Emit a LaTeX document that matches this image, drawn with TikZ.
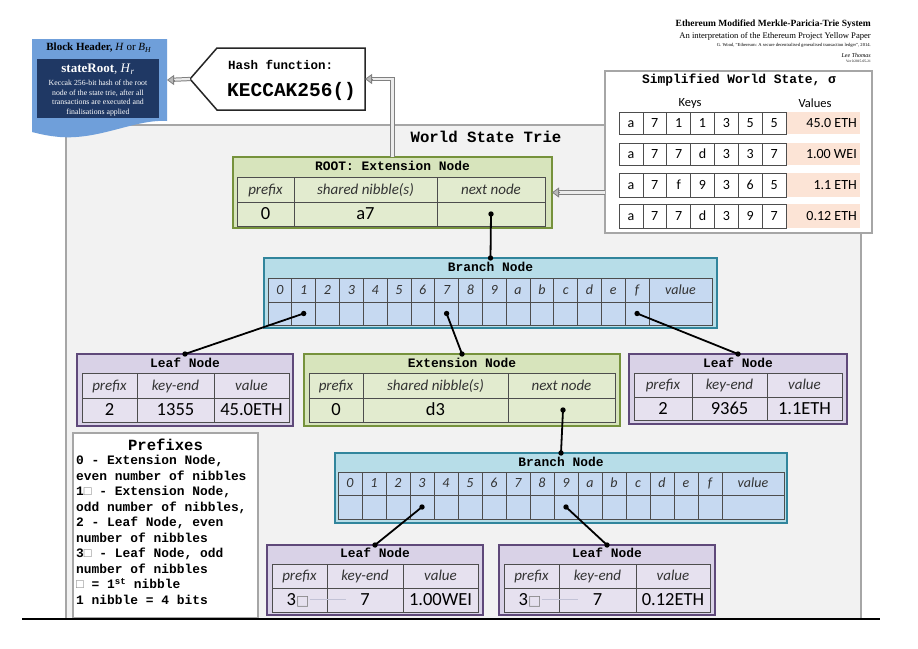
\documentclass[tikz,border=0pt]{standalone}
\usepackage{fontspec}
\setmainfont{Liberation Serif}
\newfontfamily\calf{Carlito}
\newfontfamily\mono{Liberation Mono}
\newfontfamily\djv{DejaVu Sans}
\usetikzlibrary{arrows.meta}

\definecolor{grnfill}{HTML}{D7E4BC}
\definecolor{grncell}{HTML}{E2EBCF}
\definecolor{grnline}{HTML}{76923C}
\definecolor{bluefill}{HTML}{B7DDE8}
\definecolor{bluecell}{HTML}{C6D9F1}
\definecolor{blueline}{HTML}{31859C}
\definecolor{purfill}{HTML}{D9D2E7}
\definecolor{purcell}{HTML}{E6E1EF}
\definecolor{purline}{HTML}{5F497A}
\definecolor{wsfill}{HTML}{F2F2F2}
\definecolor{wsline}{HTML}{A6A6A6}
\definecolor{peach}{HTML}{FCE4D6}
\definecolor{hdrblue}{HTML}{6F9FDA}
\definecolor{navy}{HTML}{1F3864}
\definecolor{cellline}{HTML}{4D4D4D}

\newcommand{\nibsq}{\textcolor{gray}{□}}
\newcommand{\bigsq}{\raisebox{0.5pt}{\djv\fontsize{14}{14}\selectfont\textcolor{gray}{□}}}
\newcommand{\tgrid}[8]{%
  \filldraw[cell, fill=#1] (#2,#6) rectangle (#5,#8);
  \draw[cell] (#2,#7) -- (#5,#7) (#3,#6) -- (#3,#8) (#4,#6) -- (#4,#8);}
\newcommand{\tlink}[2]{%
  \draw[conn] (#1) -- (#2);
  \fill (#1) circle[radius=2.7pt];
  \fill (#2) circle[radius=2.7pt];}

\tikzset{
  boxnode/.style={anchor=north west, inner sep=0pt, outer sep=0pt, line width=2.2pt},
  extbox/.style={boxnode, draw=grnline, fill=grnfill},
  brbox/.style={boxnode, draw=blueline, fill=bluefill},
  leafbox/.style={boxnode, draw=purline, fill=purfill},
  plainbox/.style={boxnode, draw=wsline, fill=white, line width=1.5pt},
  cell/.style={draw=cellline, line width=0.7pt},
  ttl/.style={font=\mono\bfseries\fontsize{12.9}{14}\selectfont, inner sep=0pt, text height=7.4pt, text depth=0pt},
  hd/.style={font=\calf\itshape\fontsize{15}{17}\selectfont, text height=9.5pt, text depth=0pt, inner sep=0pt, text=black!80},
  val/.style={font=\calf\fontsize{18.5}{20}\selectfont, text height=11.7pt, text depth=0pt, inner sep=0pt},
  bl/.style={font=\calf\itshape\fontsize{14}{16}\selectfont, text height=8.8pt, text depth=0pt, inner sep=0pt, text=black!80},
  ks/.style={font=\calf\fontsize{14}{16}\selectfont, text height=8.8pt, text depth=0pt, inner sep=0pt},
  conn/.style={line width=1.8pt},
  dblline/.style={draw=gray, line width=1pt, double=gray!15, double distance=2.2pt, shorten >=5pt},
  tiphead/.style={draw=gray, line width=0.8pt, -{Triangle[length=7pt, width=10pt, fill=gray!55]}}
}

\begin{document}
\begin{tikzpicture}[x=1pt,y=-1pt]
\fill[white] (0,0) rectangle (918,648);
\useasboundingbox (0,0) rectangle (918,648);

% ---- titles top right
\node[anchor=east, inner sep=0pt, font=\bfseries\fontsize{9.5}{11}\selectfont] (t1) at (871,24) {Ethereum Modified Merkle-Paricia-Trie System};
\node[anchor=east, inner sep=0pt, font=\fontsize{8.6}{10}\selectfont] (t2) at (871,36) {An interpretation of the Ethereum Project Yellow Paper};
\node[anchor=east, inner sep=0pt, font=\fontsize{4.6}{5}\selectfont] (t3) at (871,45) {G. Wood, “Ethereum: A secure decentralised generalised transaction ledger”, 2014.};
\node[anchor=east, inner sep=0pt, font=\itshape\fontsize{6}{7}\selectfont] (t4) at (871,55) {Lee Thomas};
\node[anchor=east, inner sep=0pt, font=\fontsize{3.5}{4}\selectfont] (t5) at (871,61) {Ver 0.2015-05-21};

% ---- world state trie
\node[boxnode, draw=wsline, fill=wsfill, line width=1.5pt, minimum width=795pt, minimum height=494pt] (wst) at (66,125) {};
\node[font=\mono\bfseries\fontsize{15.7}{18}\selectfont, inner sep=0pt] (wstt) at (486,137) {World State Trie};

% ---- block header
\node[boxnode, minimum width=135pt, minimum height=82pt] (bh) at (32,39) {};
\fill[hdrblue] (32,39) -- (167,39) -- (167,121) .. controls (135,119) and (100,140) .. (60,137) .. controls (48,136) and (40,134) .. (32,132) -- cycle;
\fill[navy] (37,59) rectangle (159,118);
\node[inner sep=0pt, font=\fontsize{11}{13}\selectfont] (bht) at (99,48) {\textbf{Block Header,} \textit{H} or \textit{B}\textsubscript{\textit{H}}};
\node[inner sep=0pt, text=white, font=\fontsize{13}{15}\selectfont] (sr) at (98,69) {\textbf{stateRoot}, \textit{H}\textsubscript{\textit{r}}};
\node[inner sep=0pt, text=white, align=center, font=\fontsize{7.8}{9.6}\selectfont] (srd) at (98,98) {Keccak 256-bit hash of the root\\node of the state trie, after all\\transactions are executed and\\finalisations applied};

% ---- hash function
\node[boxnode, minimum width=175pt, minimum height=62pt] (hash) at (190,48) {};
\filldraw[fill=white, draw=black!85, line width=1.5pt] (217,48) -- (365,48) -- (365,110) -- (217,110) -- (190,79) -- cycle;
\node[anchor=west, inner sep=0pt, font=\mono\bfseries\fontsize{12.5}{14}\selectfont] (hasht) at (228,65) {Hash function:};
\node[anchor=west, inner sep=0pt, font=\mono\bfseries\fontsize{19.5}{22}\selectfont] (hashk) at (227,91) {KECCAK256()};

% ---- simplified world state
\node[plainbox, minimum width=267pt, minimum height=162pt] (sws) at (605,71) {};
\node[font=\mono\bfseries\fontsize{12.9}{14}\selectfont, inner sep=0pt] (swst) at (739,80) {Simplified World State, σ};
\node[inner sep=0pt, font=\calf\fontsize{12.5}{14}\selectfont] (keys) at (690,103) {Keys};
\node[inner sep=0pt, font=\calf\fontsize{12.5}{14}\selectfont] (vals) at (815,103) {Values};
\foreach \yt/\yb/\keys/\val [count=\r] in {112/134/{a,7,1,1,3,5,5}/{45.0 ETH}, 143/165/{a,7,7,d,3,3,7}/{1.00 WEI}, 173/197/{a,7,f,9,3,6,5}/{1.1 ETH}, 204/228/{a,7,7,d,3,9,7}/{0.12 ETH}}{
  \fill[peach] (786,\yt) rectangle (860,\yb);
  \node[ks, anchor=east] (v\r) at (857,{(\yt+\yb)/2}) {\val};
  \foreach \c [count=\j from 0] in \keys {
    \draw[cell] ({619+\j*23.857},\yt) rectangle ({619+(\j+1)*23.857},\yb);
    \node[ks] (k\r\j) at ({619+(\j+0.5)*23.857},{(\yt+\yb)/2}) {\c};
  }
}

% ---- root extension node
\node[extbox, minimum width=319pt, minimum height=71pt] (root) at (233,157) {};
\node[ttl] (roott) at (392.5,166.5) {ROOT: Extension Node};
\tgrid{grncell}{237}{294}{437}{545}{177}{202}{226}
\node[hd] (rh1) at (265.5,189.5) {prefix};
\node[hd] (rh2) at (365.5,189.5) {shared nibble(s)};
\node[hd] (rh3) at (491,189.5) {next node};
\node[val] (rv1) at (265.5,214) {0};
\node[val] (rv2) at (365.5,214) {a7};
\coordinate (rootdot) at (491,214);

% ---- branch node 1
\node[brbox, minimum width=453pt, minimum height=70pt] (br1) at (264,258) {};
\node[ttl] (br1t) at (490.5,268) {Branch Node};
\filldraw[cell, fill=bluecell] (268,278) rectangle (712,325);
\draw[cell] (268,302) -- (712,302);
\foreach \l [count=\i from 0] in {0,1,2,3,4,5,6,7,8,9,a,b,c,d,e,f} {
  \draw[cell] ({268+(\i+1)*23.8125},278) -- ({268+(\i+1)*23.8125},325);
  \node[bl] (b1l\i) at ({268+(\i+0.5)*23.8125},290) {\l};
}
\node[bl] (b1lv) at (680.5,290) {value};
\coordinate (b1c1) at (303.7,313.5);
\coordinate (b1c7) at (446.6,313.5);
\coordinate (b1cf) at (637.1,313.5);

% ---- leaf node 1
\node[leafbox, minimum width=216pt, minimum height=72pt] (leaf1) at (77,354) {};
\node[ttl] (leaf1t) at (185,363.5) {Leaf Node};
\tgrid{purcell}{82}{137}{214}{289}{373}{398}{422}
\node[hd] (l1h1) at (109.5,385.5) {prefix};
\node[hd] (l1h2) at (175.5,385.5) {key-end};
\node[hd] (l1h3) at (251.5,385.5) {value};
\node[val] (l1v1) at (109.5,410) {2};
\node[val] (l1v2) at (175.5,410) {1355};
\node[val] (l1v3) at (251.5,410) {45.0ETH};

% ---- extension node 2
\node[extbox, minimum width=316pt, minimum height=72pt] (ext2) at (304,354) {};
\node[ttl] (ext2t) at (462,363.5) {Extension Node};
\tgrid{grncell}{309}{363}{508}{615}{373}{398}{422}
\node[hd] (e2h1) at (336,385.5) {prefix};
\node[hd] (e2h2) at (435.5,385.5) {shared nibble(s)};
\node[hd] (e2h3) at (561.5,385.5) {next node};
\node[val] (e2v1) at (336,410) {0};
\node[val] (e2v2) at (435.5,410) {d3};
\coordinate (ext2dot) at (563,410);

% ---- leaf node 2
\node[leafbox, minimum width=218pt, minimum height=70pt] (leaf2) at (629,354) {};
\node[ttl] (leaf2t) at (738,363.5) {Leaf Node};
\tgrid{purcell}{634}{692}{767}{842}{373}{397}{420}
\node[hd] (l2h1) at (663,385) {prefix};
\node[hd] (l2h2) at (729.5,385) {key-end};
\node[hd] (l2h3) at (804.5,385) {value};
\node[val] (l2v1) at (663,408.5) {2};
\node[val] (l2v2) at (729.5,408.5) {9365};
\node[val] (l2v3) at (804.5,408.5) {1.1ETH};

% ---- prefixes legend
\node[plainbox, minimum width=185pt, minimum height=185pt] (pref) at (73,433) {};
\node[font=\mono\bfseries\fontsize{15.6}{18}\selectfont, inner sep=0pt] (preft) at (165.5,445) {Prefixes};
\node[anchor=north west, inner sep=0pt, align=left, font=\mono\bfseries\fontsize{12.9}{15.5}\selectfont] (preftext) at (76,455) {0 - Extension Node,\\even number of nibbles\\1\nibsq{} - Extension Node,\\odd number of nibbles,\\2 - Leaf Node, even\\number of nibbles\\3\nibsq{} - Leaf Node, odd\\number of nibbles\\\nibsq{} = 1\textsuperscript{st} nibble\\1 nibble = 4 bits};

% ---- branch node 2
\node[brbox, minimum width=452pt, minimum height=70pt] (br2) at (335,453) {};
\node[ttl] (br2t) at (561,463) {Branch Node};
\filldraw[cell, fill=bluecell] (338,472) rectangle (784,519);
\draw[cell] (338,495) -- (784,495);
\foreach \l [count=\i from 0] in {0,1,2,3,4,5,6,7,8,9,a,b,c,d,e,f} {
  \draw[cell] ({338+(\i+1)*24},472) -- ({338+(\i+1)*24},519);
  \node[bl] (b2l\i) at ({338+(\i+0.5)*24},483.5) {\l};
}
\node[bl] (b2lv) at (753,483.5) {value};
\coordinate (b2c3) at (422,507);
\coordinate (b2c9) at (566,507);

% ---- leaf node 3
\node[leafbox, minimum width=216pt, minimum height=70pt] (leaf3) at (267,545) {};
\node[ttl] (leaf3t) at (375,554) {Leaf Node};
\tgrid{purcell}{272}{327}{403}{478}{564}{588}{612}
\node[hd] (l3h1) at (299.5,576) {prefix};
\node[hd] (l3h2) at (365,576) {key-end};
\node[hd] (l3h3) at (440.5,576) {value};
\node[val] (l3v1) at (298,600) {3\bigsq};
\draw[blue!20!gray!40, line width=0.6pt] ([yshift=1pt]l3v1.east) -- ++(36,0);
\node[val] (l3v2) at (365,600) {7};
\node[val] (l3v3) at (440.5,600) {1.00WEI};

% ---- leaf node 4
\node[leafbox, minimum width=216pt, minimum height=70pt] (leaf4) at (499,545) {};
\node[ttl] (leaf4t) at (607,554) {Leaf Node};
\tgrid{purcell}{504}{559}{636}{710}{564}{588}{612}
\node[hd] (l4h1) at (531.5,576) {prefix};
\node[hd] (l4h2) at (597.5,576) {key-end};
\node[hd] (l4h3) at (673,576) {value};
\node[val] (l4v1) at (530,600) {3\bigsq};
\draw[blue!20!gray!40, line width=0.6pt] ([yshift=1pt]l4v1.east) -- ++(36,0);
\node[val] (l4v2) at (597.5,600) {7};
\node[val] (l4v3) at (673,600) {0.12ETH};

% ---- connectors
\tlink{rootdot}{br1.north}
\tlink{b1c1}{leaf1.north}
\tlink{b1c7}{ext2.north}
\tlink{b1cf}{leaf2.north}
\tlink{ext2dot}{br2.north}
\tlink{b2c3}{leaf3.north}
\tlink{b2c9}{leaf4.north}

% ---- hash arrows (double line + filled head)
\draw[dblline] (hash.west) -- (bh.east);
\draw[tiphead] ([xshift=8pt]bh.east) -- (bh.east);
\draw[dblline] (root.north) |- (hash.east);
\draw[tiphead] ([xshift=8pt]hash.east) -- (hash.east);
\draw[dblline] (sws.west |- root.east) -- (root.east);
\draw[tiphead] ([xshift=8pt]root.east) -- (root.east);

% ---- bottom rule
\draw[line width=1.8pt] (22,619) -- (880,619);
\end{tikzpicture}
\end{document}
